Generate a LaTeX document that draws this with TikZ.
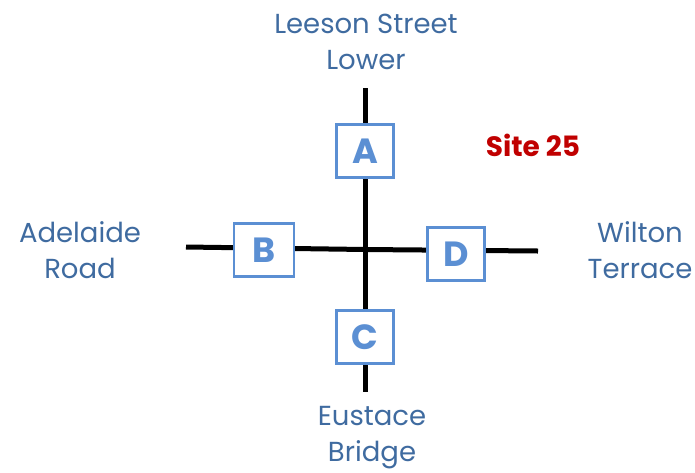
\documentclass[tikz,border=0pt]{standalone}
\usepackage{fontspec}
\setmainfont{Poppins}
\definecolor{roadtxt}{HTML}{3F6BA0}
\definecolor{boxblue}{HTML}{5B8FD3}
\definecolor{sitered}{HTML}{C00000}
\begin{document}
\begin{tikzpicture}[x=1pt,y=-1pt,
  road/.style={line width=5pt,black},
  site/.style={draw=boxblue,line width=2.5pt,fill=white,text=boxblue,
    font=\fontsize{35}{35}\selectfont\bfseries,inner sep=0pt,
    minimum width=57pt,minimum height=53pt},
  lbl/.style={text=roadtxt,font=\fontsize{27.5}{36}\selectfont,align=center,inner sep=0pt}]
\useasboundingbox (0,0) rectangle (695,472);
\coordinate (top) at (365,88);
\coordinate (bot) at (365,392);
\coordinate (lft) at (186,247);
\coordinate (rgt) at (538,251);
\coordinate (mid) at (365,249.5);
\draw[road] (top) -- (bot);
\draw[road] (lft) -- (mid) -- (rgt);
\node[site] (A) at (365,151) {A};
\node[site,minimum width=60pt] (B) at (264,250) {B};
\node[site] (C) at (365,337) {C};
\node[site] (D) at (456,254) {D};
\node[lbl] (north) at (366,42) {Leeson Street\\Lower};
\node[lbl] (west) at (80,250) {Adelaide\\Road};
\node[lbl] (east) at (640,250) {Wilton\\Terrace};
\node[lbl] (south) at (372,438) {Eustace\\Bridge};
\node[text=sitered,font=\fontsize{28}{28}\selectfont\bfseries,inner sep=0pt] (site) at (533,145) {Site 25};
\end{tikzpicture}
\end{document}
